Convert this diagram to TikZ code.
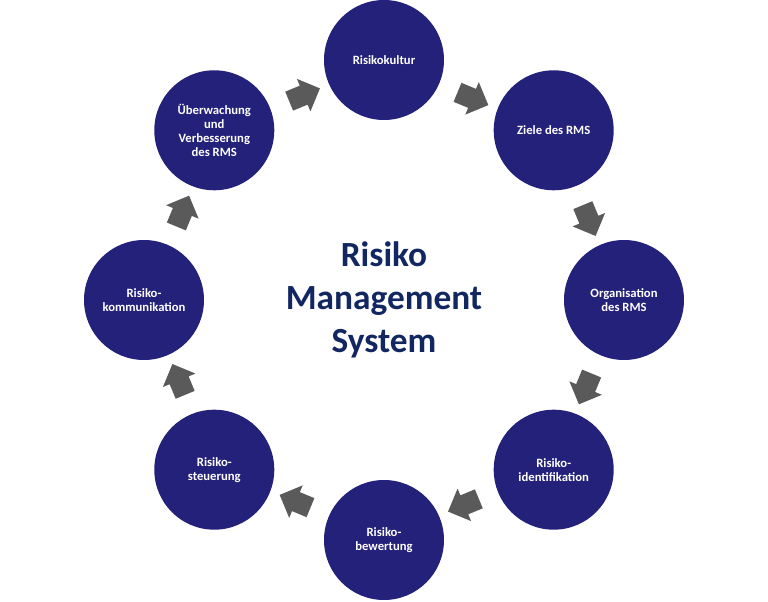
\documentclass[tikz,border=0pt]{standalone}
\usepackage{fontspec}
\setmainfont{Carlito}
\usetikzlibrary{positioning,shapes.arrows}
\definecolor{rms_blue}{RGB}{35,33,122}
\definecolor{rms_navy}{RGB}{18,38,98}
\definecolor{rms_gray}{RGB}{90,90,90}
\tikzset{
step_circle/.style={
	% The shape:
	circle,
	% The size:
	minimum size=90pt,
	inner sep=0pt,
	% The filling:
	fill=rms_blue,
	% Font
	text=white,
	align=center,
	font=\bfseries\fontsize{9.5}{10.5}\selectfont
},
cycle_arrow/.style={
	% The shape:
	single arrow,
	% The size:
	minimum height=25pt,
	text height=15pt,
	text depth=0pt,
	inner sep=0pt,
	single arrow head extend=5.5pt,
	% The filling:
	fill=rms_gray
},
title_text/.style={
	align=center,
	text=rms_navy,
	font=\bfseries\fontsize{26.5}{32}\selectfont
}
}
\begin{document}
\begin{tikzpicture}
	\useasboundingbox (-288pt,-226.5pt) rectangle (288pt,225pt);
	\node[title_text] (rms) at (0,0) {Risiko\\Management\\System};
	% the eight steps, clockwise from the top
	\node[step_circle] (kultur) at (90:180pt) {Risikokultur};
	\node[step_circle] (ziele) at (45:180pt) {Ziele des RMS};
	\node[step_circle] (orga) at (0:180pt) {Organisation\\des RMS};
	\node[step_circle] (ident) at (-45:180pt) {Risiko-\\identifikation};
	\node[step_circle] (bewert) at (-90:180pt) {Risiko-\\bewertung};
	\node[step_circle] (steuer) at (-135:180pt) {Risiko-\\steuerung};
	\node[step_circle] (komm) at (180:180pt) {Risiko-\\kommunikation};
	\node[step_circle] (ueber) at (135:180pt) {Überwachung\\und\\Verbesserung\\des RMS};
	% arrows between the steps
	\foreach \a/\n in {67.5/a, 22.5/b, -22.5/c, -67.5/d, -112.5/e, -157.5/f, 157.5/g, 112.5/h}
		\node[cycle_arrow, rotate=\a-90] (arr_\n) at (\a:165pt) {};
\end{tikzpicture}
\end{document}
